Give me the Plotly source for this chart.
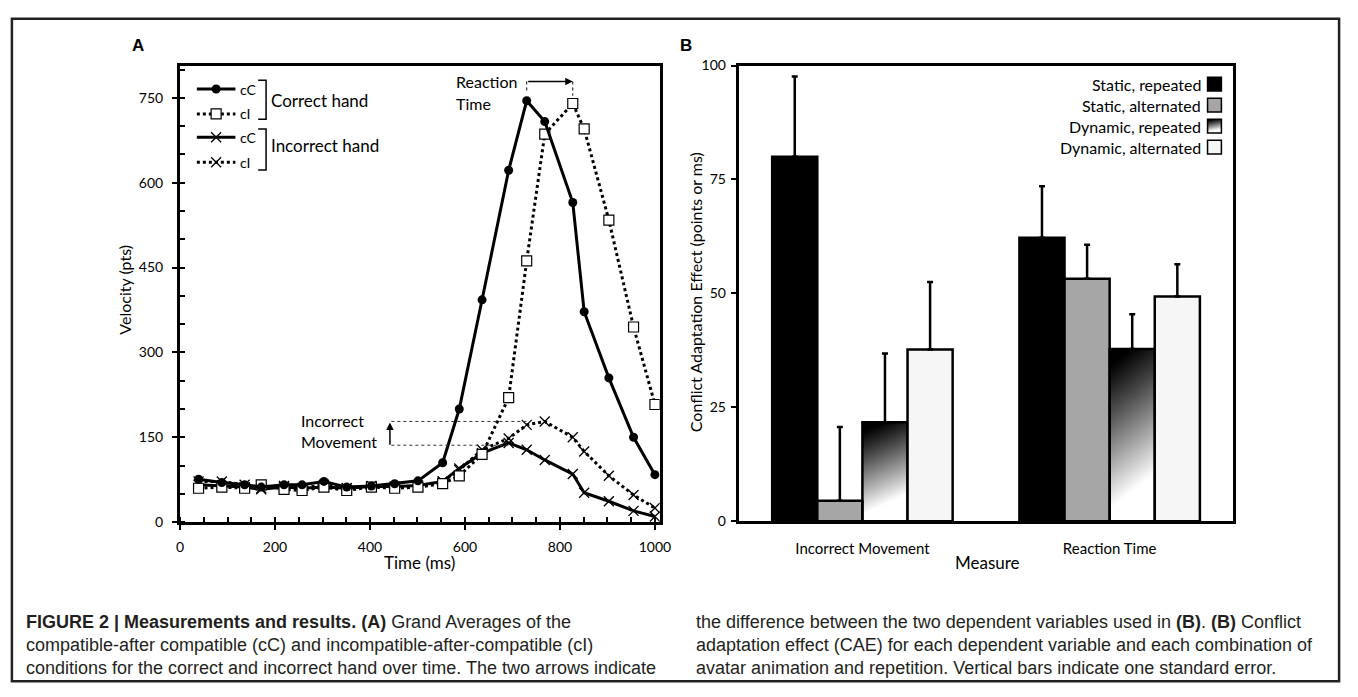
import base64
import struct
import zlib
import numpy as np
import plotly.graph_objects as go

W, H = 1358, 697

# ---------------- Panel A data ----------------
time_ms = [39, 88, 136, 171, 219, 257, 303, 351, 403, 452, 501, 553, 588, 636, 692, 730, 768, 827, 851, 903, 955, 1000]
correct_cC = [76, 70, 66, 62, 66, 66, 72, 62, 64, 68, 73, 105, 200, 393, 622, 745, 708, 565, 372, 255, 150, 84]
correct_cI = [60, 62, 60, 66, 58, 56, 62, 56, 62, 60, 62, 68, 82, 120, 220, 462, 686, 740, 695, 534, 345, 208]
incorrect_cC = [66, 64, 62, 58, 62, 60, 62, 60, 63, 63, 65, 72, 95, 122, 140, 128, 110, 85, 52, 37, 20, 10]
incorrect_cI = [72, 72, 66, 60, 64, 60, 66, 60, 64, 62, 62, 72, 92, 128, 148, 172, 178, 150, 125, 82, 48, 25]
x_ticks_A = [0, 200, 400, 600, 800, 1000]
y_ticks_A = [0, 150, 300, 450, 600, 750]

# ---------------- Panel B data ----------------
measures = ["Incorrect Movement", "Reaction Time"]
conditions = ["Static, repeated", "Static, alternated", "Dynamic, repeated", "Dynamic, alternated"]
static_repeated = [80.0, 62.2]
static_repeated_se = [17.6, 11.3]
static_alternated = [4.5, 53.2]
static_alternated_se = [16.2, 7.5]
dynamic_repeated = [21.7, 37.8]
dynamic_repeated_se = [15.1, 7.6]
dynamic_alternated = [37.7, 49.3]
dynamic_alternated_se = [14.8, 7.1]
y_ticks_B = [0, 25, 50, 75, 100]

FONT = "Lato, 'Open Sans', sans-serif"
CAP_FONT = "'Liberation Sans Narrow', 'Arial Narrow', 'Liberation Sans', sans-serif"
BOLD_FONT = "'Liberation Sans', Arial, sans-serif"
BARGAP = 0.27


def px(x):
    return x / W


def py(y):
    return 1 - y / H


def gray_png_uri(width, height, func):
    raw = bytearray()
    for j in range(height):
        raw.append(0)
        for i in range(width):
            u = i / (width - 1)
            v = j / (height - 1)
            raw.append(int(round(255 * func(u, v))))

    def chunk(tag, data):
        c = struct.pack('>I', len(data)) + tag + data
        return c + struct.pack('>I', zlib.crc32(tag + data) & 0xffffffff)

    png = (b'\x89PNG\r\n\x1a\n'
           + chunk(b'IHDR', struct.pack('>IIBBBBB', width, height, 8, 0, 0, 0, 0))
           + chunk(b'IDAT', zlib.compress(bytes(raw)))
           + chunk(b'IEND', b''))
    return 'data:image/png;base64,' + base64.b64encode(png).decode()


def grad(u, v):
    g = (v + 0.2 * u - 0.08) / 0.85
    return float(np.clip(g, 0, 1)) ** 1.1


GRAD_URI = gray_png_uri(40, 80, grad)

fig = go.Figure()

# ---------------- Panel A traces ----------------
line_solid = dict(color='black', width=3)
line_dot = dict(color='black', width=3, dash='3px,3px')
xmark = dict(symbol='x-thin', size=10, line=dict(color='black', width=1.3))
sqmark = dict(symbol='square', size=10, color='white', line=dict(color='black', width=1.2))
cimark = dict(symbol='circle', size=9, color='black')
fig.add_trace(go.Scatter(x=time_ms, y=incorrect_cI, mode='lines+markers', line=line_dot, marker=xmark,
                         name='cI incorrect', xaxis='x', yaxis='y'))
fig.add_trace(go.Scatter(x=time_ms, y=incorrect_cC, mode='lines+markers', line=line_solid, marker=xmark,
                         name='cC incorrect', xaxis='x', yaxis='y'))
fig.add_trace(go.Scatter(x=time_ms, y=correct_cI, mode='lines+markers', line=line_dot, marker=sqmark,
                         name='cI correct', xaxis='x', yaxis='y'))
fig.add_trace(go.Scatter(x=time_ms, y=correct_cC, mode='lines+markers', line=line_solid, marker=cimark,
                         name='cC correct', xaxis='x', yaxis='y'))

# ---------------- Panel B traces ----------------
bar_line = dict(color='black', width=2.5)
err_style = dict(type='data', symmetric=False, color='black', thickness=2.5, width=3)
fig.add_trace(go.Bar(x=measures, y=static_repeated, name=conditions[0], marker=dict(color='black', line=bar_line),
                     error_y=dict(array=static_repeated_se, arrayminus=[0, 0], **err_style), xaxis='x2', yaxis='y2'))
fig.add_trace(go.Bar(x=measures, y=static_alternated, name=conditions[1], marker=dict(color='#a6a6a6', line=bar_line),
                     error_y=dict(array=static_alternated_se, arrayminus=[0, 0], **err_style), xaxis='x2', yaxis='y2'))
fig.add_trace(go.Bar(x=measures, y=dynamic_repeated, name=conditions[2], marker=dict(color='rgba(0,0,0,0)', line=bar_line),
                     error_y=dict(array=dynamic_repeated_se, arrayminus=[0, 0], **err_style), xaxis='x2', yaxis='y2'))
fig.add_trace(go.Bar(x=measures, y=dynamic_alternated, name=conditions[3], marker=dict(color='#f6f6f6', line=bar_line),
                     error_y=dict(array=dynamic_alternated_se, arrayminus=[0, 0], **err_style), xaxis='x2', yaxis='y2'))

# gradient fill for the "Dynamic, repeated" bars (placed from the bar data in the axis' domain)
images = []
bw = (1 - BARGAP) / 4
for k, val in enumerate(dynamic_repeated):
    left = k - (1 - BARGAP) / 2 + 2 * bw
    images.append(dict(source=GRAD_URI, xref='x2 domain', yref='y2 domain',
                       x=(left + 0.5) / 2, y=0, sizex=bw / 2, sizey=val / 100,
                       xanchor='left', yanchor='bottom', sizing='stretch', layer='below'))

# ---------------- Panel A legend glyphs (overlay pixel axis) ----------------
leg_rows = [82, 107.5, 131.5, 157]
leg_styles = [(line_solid, cimark, 'cC'), (line_dot, sqmark, 'cI'), (line_solid, xmark, 'cC'), (line_dot, xmark, 'cI')]
annotations = []


def label(x, y, text, size, xanchor='center', family=FONT, angle=0, color='black'):
    return dict(x=px(x), y=py(y), xref='paper', yref='paper', text=text, showarrow=False, textangle=angle,
                xanchor=xanchor, yanchor='middle', font=dict(family=family, size=size, color=color))


for yy, (ln, mk, lab) in zip(leg_rows, leg_styles):
    fig.add_trace(go.Scatter(x=[195, 234], y=[yy, yy], mode='lines', line=ln, xaxis='x3', yaxis='y3',
                             hoverinfo='skip'))
    fig.add_trace(go.Scatter(x=[214.5], y=[yy], mode='markers', marker=mk, xaxis='x3', yaxis='y3',
                             hoverinfo='skip'))
    annotations.append(label(237, yy, lab, 14, 'left'))

shapes = []
for (y0, y1) in [(73, 113), (123, 165)]:
    shapes.append(dict(type='path', xref='paper', yref='paper',
                       path=f"M {px(257)},{py(y0)} L {px(265)},{py(y0)} L {px(265)},{py(y1)} L {px(257)},{py(y1)}",
                       line=dict(color='black', width=1.5)))
annotations.append(label(268, 94, 'Correct hand', 17, 'left'))
annotations.append(label(268, 140, 'Incorrect hand', 17, 'left'))

# ---------------- Panel A annotations ----------------
pk_cC = int(np.argmax(correct_cC))
pk_cI = int(np.argmax(correct_cI))
rt_y = 779
annotations.append(dict(x=time_ms[pk_cI], y=rt_y, ax=time_ms[pk_cC], ay=rt_y, xref='x', yref='y', axref='x', ayref='y',
                        text='', showarrow=True, arrowhead=2, arrowsize=1, arrowwidth=1.5, arrowcolor='black'))
shapes.append(dict(type='line', xref='x', yref='y', x0=time_ms[pk_cC], x1=time_ms[pk_cC], y0=rt_y, y1=correct_cC[pk_cC] + 14,
                   line=dict(color='black', width=1, dash='dot')))
shapes.append(dict(type='line', xref='x', yref='y', x0=time_ms[pk_cI], x1=time_ms[pk_cI], y0=rt_y, y1=correct_cI[pk_cI] + 14,
                   line=dict(color='black', width=1, dash='dot')))
for txt, yv in [('Reaction', 779), ('Time', 740)]:
    annotations.append(dict(x=577, y=yv, xref='x', yref='y', text=txt, showarrow=False, xanchor='left',
                            yanchor='middle', font=dict(family=FONT, size=16, color='black')))

pk_icC = int(np.argmax(incorrect_cC))
pk_icI = int(np.argmax(incorrect_cI))
shapes.append(dict(type='line', xref='x', yref='y', x0=445, x1=time_ms[pk_icI - 1], y0=incorrect_cI[pk_icI],
                   y1=incorrect_cI[pk_icI], line=dict(color='#333', width=1, dash='dot')))
shapes.append(dict(type='line', xref='x', yref='y', x0=445, x1=time_ms[pk_icC], y0=incorrect_cC[pk_icC] - 4,
                   y1=incorrect_cC[pk_icC] - 4, line=dict(color='#333', width=1, dash='dot')))
annotations.append(dict(x=442, y=incorrect_cI[pk_icI] - 2, ax=442, ay=incorrect_cC[pk_icC] - 6, xref='x', yref='y',
                        axref='x', ayref='y', text='', showarrow=True, arrowhead=2, arrowsize=1, arrowwidth=1.5,
                        arrowcolor='black'))
for txt, yv in [('Incorrect', 179), ('Movement', 143)]:
    annotations.append(dict(x=250, y=yv, xref='x', yref='y', text=txt, showarrow=False, xanchor='left',
                            yanchor='middle', font=dict(family=FONT, size=16, color='black')))

# ---------------- Panel B legend ----------------
leg_b_rows = [77, 98.5, 120, 141.5]
swatch_fill = ['black', '#a6a6a6', None, '#f6f6f6']
for yy, name, fill in zip(leg_b_rows, conditions, swatch_fill):
    annotations.append(label(1212, yy, name, 16, 'right'))
    if fill is None:
        images.append(dict(source=GRAD_URI, xref='paper', yref='paper', x=px(1217), y=py(yy - 7),
                           sizex=px(14), sizey=14 / H, xanchor='left', yanchor='top', sizing='stretch', layer='above'))
        shapes.append(dict(type='rect', xref='paper', yref='paper', x0=px(1217), x1=px(1231), y0=py(yy - 7),
                           y1=py(yy + 7), line=dict(color='black', width=1.5)))
    else:
        shapes.append(dict(type='rect', xref='paper', yref='paper', x0=px(1217), x1=px(1231), y0=py(yy - 7),
                           y1=py(yy + 7), fillcolor=fill, line=dict(color='black', width=1.5)))

# ---------------- titles, labels ----------------
annotations += [
    label(135, 37, '<b>A</b>', 17, family=BOLD_FONT),
    label(690, 37, '<b>B</b>', 17, family=BOLD_FONT),
    label(122, 288, 'Velocity (pts)', 16, angle=-90),
    label(420, 567, 'Time (ms)', 17),
    label(700, 290, 'Conflict Adaptation Effect (points or ms)', 16, angle=-90),
    label(994, 567, 'Measure', 17),
]

caption_left = [
    "<b>FIGURE 2 | Measurements and results. (A)</b> Grand Averages of the",
    "compatible-after compatible (cC) and incompatible-after-compatible (cI)",
    "conditions for the correct and incorrect hand over time. The two arrows indicate",
]
caption_right = [
    "the difference between the two dependent variables used in <b>(B)</b>. <b>(B)</b> Conflict",
    "adaptation effect (CAE) for each dependent variable and each combination of",
    "avatar animation and repetition. Vertical bars indicate one standard error.",
]
for i, (l, r) in enumerate(zip(caption_left, caption_right)):
    yy = 628 + i * 23.5
    annotations.append(label(20, yy, l, 18, 'left', CAP_FONT, color='#231f20'))
    annotations.append(label(698, yy, r, 18, 'left', CAP_FONT, color='#231f20'))

# outer frame
shapes.append(dict(type='rect', xref='paper', yref='paper', x0=px(8), x1=px(1350), y0=py(10), y1=py(689),
                   line=dict(color='#222', width=2.5)))

tickfont = dict(family=FONT, size=14, color='black')
fig.update_layout(
    width=W, height=H, margin=dict(l=0, r=0, t=0, b=0, pad=0), autosize=False,
    paper_bgcolor='white', plot_bgcolor='rgba(0,0,0,0)', showlegend=False,
    barmode='group', bargap=BARGAP, bargroupgap=0,
    xaxis=dict(domain=[px(178), px(663)], range=[0, 1010], tickmode='array', tickvals=x_ticks_A,
               ticks='outside', ticklen=5, tickwidth=2, tickcolor='black', showline=True, linewidth=3,
               linecolor='black', mirror=True, showgrid=False, zeroline=False, tickfont=tickfont,
               ticklabelstandoff=5, anchor='y',
               minor=dict(ticks='inside', tickmode='linear', tick0=0, dtick=50, ticklen=5, tickwidth=1.5,
                          tickcolor='black', showgrid=False)),
    yaxis=dict(domain=[py(526), py(58)], range=[0, 807], tickmode='array', tickvals=y_ticks_A,
               ticks='outside', ticklen=5, tickwidth=2, tickcolor='black', showline=True, linewidth=3,
               linecolor='black', mirror=True, showgrid=False, zeroline=False, tickfont=tickfont,
               ticklabelstandoff=6, anchor='x',
               minor=dict(ticks='inside', tickmode='linear', tick0=0, dtick=50, ticklen=5, tickwidth=1.5,
                          tickcolor='black', showgrid=False)),
    xaxis2=dict(domain=[px(743), px(1243)], type='category', categoryorder='array', categoryarray=measures,
                range=[-0.5, 1.5], ticks='', showline=True, linewidth=3, linecolor='black', mirror=True,
                showgrid=False, zeroline=False, tickfont=dict(family=FONT, size=15, color='black'),
                ticklabelstandoff=12, anchor='y2'),
    yaxis2=dict(domain=[py(525), py(58)], range=[0, 100], tickmode='array', tickvals=y_ticks_B,
                ticks='outside', ticklen=5, tickwidth=2, tickcolor='black', showline=True, linewidth=3,
                linecolor='black', mirror=True, showgrid=False, zeroline=False, tickfont=tickfont,
                ticklabelstandoff=2, anchor='x2'),
    xaxis3=dict(domain=[0, 1], range=[0, W], visible=False, fixedrange=True, anchor='y3'),
    yaxis3=dict(domain=[0, 1], range=[H, 0], visible=False, fixedrange=True, anchor='x3'),
    shapes=shapes, annotations=annotations, images=images,
)

post = (
    "document.documentElement.style.margin='0';"
    "document.documentElement.style.overflow='hidden';"
    "document.body.style.margin='0';"
    "document.body.style.overflow='hidden';"
    "var gd=document.getElementById('{plot_id}');"
    "gd.style.position='fixed';gd.style.left='0px';gd.style.top='0px';"
)
fig.write_html("out.html", config={'displayModeBar': False}, post_script=post)
